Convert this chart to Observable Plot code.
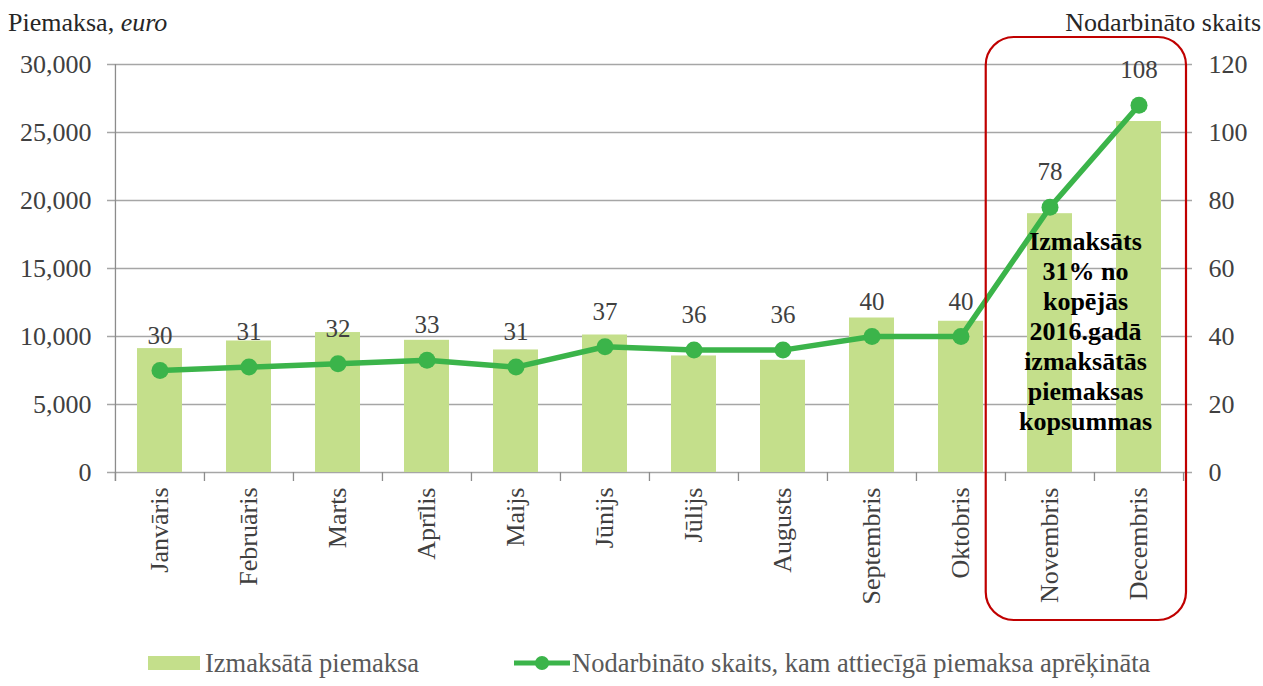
<!DOCTYPE html>
<html><head><meta charset="utf-8">
<script src="https://cdn.jsdelivr.net/npm/d3@7"></script>
<script src="https://cdn.jsdelivr.net/npm/@observablehq/plot@0.6"></script>
<style>
body{margin:0;background:#fff;font-family:"Liberation Serif","Times New Roman",serif;}
#legend{position:relative;width:1263px;height:46px;font-size:26.5px;color:#595959;font-family:"Liberation Serif","Times New Roman",serif;}
#legend .item{position:absolute;top:0;height:46px;display:flex;align-items:center;white-space:nowrap;}
</style></head><body>
<div id="chart"></div>
<div id="legend">
  <div class="item" style="left:148px"><span style="display:inline-block;width:52px;height:14px;background:#c4df8b;margin-right:5px"></span><span id="lg1"></span></div>
  <div class="item" style="left:514px"><svg width="56" height="20" style="margin-right:2px"><line x1="0" x2="56" y1="10" y2="10" stroke="#3bb44a" stroke-width="5"/><circle cx="28" cy="10" r="7" fill="#3bb44a"/></svg><span id="lg2"></span></div>
</div>
<script>
const months = ["Janvāris","Februāris","Marts","Aprīlis","Maijs","Jūnijs","Jūlijs","Augusts","Septembris","Oktobris","Novembris","Decembris"];
const payments = [9110, 9670, 10290, 9720, 9010, 10110, 8570, 8250, 11360, 11120, 19030, 25810];
const workers = [30, 31, 32, 33, 31, 37, 36, 36, 40, 40, 78, 108];
const leftTicks = [0, 5000, 10000, 15000, 20000, 25000, 30000];
const rightTicks = [0, 20, 40, 60, 80, 100, 120];
const leftTitle = "Piemaksa, ";
const leftTitleUnit = "euro";
const rightTitle = "Nodarbināto skaits";
const seriesNames = ["Izmaksātā piemaksa", "Nodarbināto skaits, kam attiecīgā piemaksa aprēķināta"];
const annotationLines = ["Izmaksāts", "31% no", "kopējās", "2016.gadā", "izmaksātās", "piemaksas", "kopsummas"];
const annotationMonth = "Novembris";
const annotationY = 10440;

const ratio = 30000 / 120;
const data = months.map((m, i) => ({month: m, pay: payments[i], n: workers[i]}));

const W = 1263, H = 640, mL = 114, mR = 80, mT = 64, mB = 168;
const step = (W - mL - mR) / months.length;
const font = '"Liberation Serif","Times New Roman",serif';
const green = "#3bb44a";
const axisGray = "#8c8c8c";

const plot = Plot.plot({
  width: W, height: H, marginLeft: mL, marginRight: mR, marginTop: mT, marginBottom: mB,
  style: {fontFamily: font, fontSize: "26px", color: "#404040", background: "#fff"},
  x: {domain: months, paddingInner: 0.5, paddingOuter: 0.25, label: null},
  y: {domain: [0, 30000], label: null},
  marks: [
    Plot.ruleY(leftTicks, {stroke: "#a6a6a6", strokeWidth: 1.3, insetLeft: -7, insetRight: -9}),
    Plot.ruleX(months, {x: d => d, dx: -step / 2, stroke: axisGray, strokeWidth: 1.3, insetTop: H - mT - mB, insetBottom: -9}),
    Plot.ruleX(months.slice(-1), {x: d => d, dx: step / 2, stroke: axisGray, strokeWidth: 1.3, insetTop: H - mT - mB, insetBottom: -9}),
    Plot.ruleX(months.slice(0, 1), {x: d => d, dx: -step / 2, stroke: axisGray, strokeWidth: 1.3, insetBottom: -9}),
    Plot.barY(data, {x: "month", y: "pay", fill: "#c4df8b"}),
    Plot.line(data, {x: "month", y: d => d.n * ratio, stroke: green, strokeWidth: 5.5}),
    Plot.dot(data, {x: "month", y: d => d.n * ratio, r: 8.5, fill: green}),
    Plot.text(data, {x: "month", y: d => d.n * ratio, text: d => String(d.n), dy: -35, fontSize: 25, fill: "#404040"}),
    Plot.axisY(leftTicks, {anchor: "left", tickSize: 0, tickPadding: 23, tickFormat: d3.format(","), fontSize: 26, label: null}),
    Plot.axisY(rightTicks.map(v => v * ratio), {anchor: "right", tickSize: 0, tickPadding: 25, tickFormat: d => String(Math.round(d / ratio)), fontSize: 26, label: null}),
    Plot.axisX({tickRotate: -90, tickSize: 0, tickPadding: 15, fontSize: 26, label: null}),
    Plot.text([{m: annotationMonth, v: annotationY, t: annotationLines.join("\n")}],
      {x: "m", y: "v", text: "t", dx: step / 2 - 9, fontSize: 26, fontWeight: "bold", fill: "#000", lineHeight: 1.15})
  ]
});
document.getElementById("chart").appendChild(plot);

const svg = d3.select(plot);
const xs = plot.scale("x"), ys = plot.scale("y");
const bandStart = xs.apply(annotationMonth) - step * 0.25;
const boxLeft = bandStart - 19;
const boxRight = mL + months.length * step + 3;
const boxTop = ys.apply(30000) - 27;
const boxBottom = ys.apply(0) + 148;
svg.append("rect").attr("x", boxLeft).attr("y", boxTop).attr("width", boxRight - boxLeft).attr("height", boxBottom - boxTop)
  .attr("rx", 28).attr("ry", 28).attr("fill", "none").attr("stroke", "#c00000").attr("stroke-width", 2.2);

const t1 = svg.append("text").attr("x", 8).attr("y", 31).attr("text-anchor", "start").attr("font-size", 26).attr("fill", "#262626").attr("font-family", font);
t1.append("tspan").text(leftTitle);
t1.append("tspan").attr("font-style", "italic").text(leftTitleUnit);
svg.append("text").attr("x", 1261).attr("y", 31).attr("text-anchor", "end").attr("font-size", 26).attr("fill", "#262626").attr("font-family", font).text(rightTitle);

document.getElementById("lg1").textContent = seriesNames[0];
document.getElementById("lg2").textContent = seriesNames[1];
</script>
</body></html>
